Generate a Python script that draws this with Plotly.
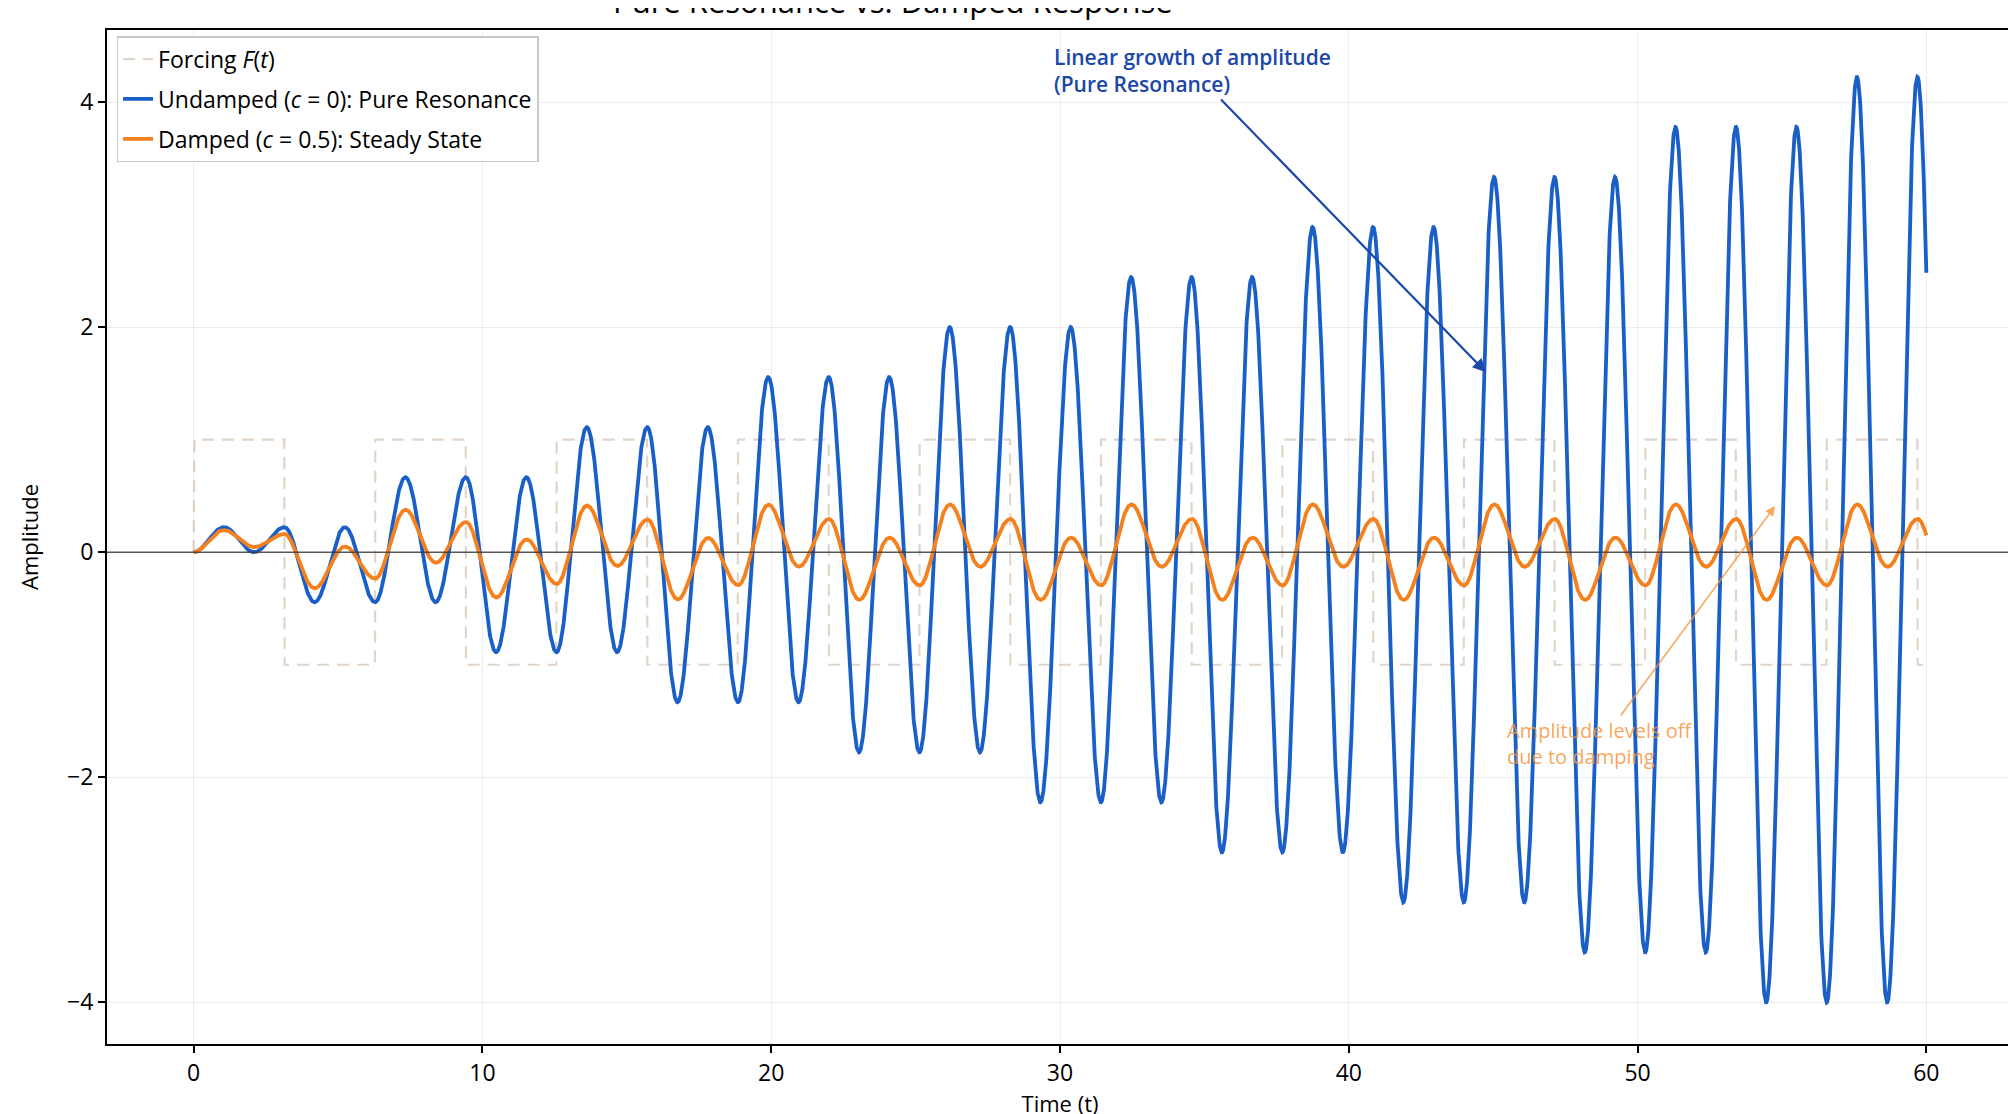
import math
import numpy as np
import plotly.graph_objects as go

# ---- Values ----
time_span = [0.0, 60.0]            # simulated time range
natural_freq = [3.0]               # response makes 3 cycles per forcing period
forcing_levels = [1.0, -1.0]       # square-wave forcing levels
damping_values = [0.0, 0.5]        # c for the two responses
series_names = [
    "Undamped (<i>c</i> = 0): Pure Resonance",
    "Damped (<i>c</i> = 0.5): Steady State",
]
forcing_name = "Forcing <i>F</i>(<i>t</i>)"
x_ticks = [0, 10, 20, 30, 40, 50, 60]
y_ticks = [-4, -2, 0, 2, 4]
title_text = "Pure Resonance vs. Damped Response"
blue_note = "Linear growth of amplitude<br>(Pure Resonance)"
orange_note = "Amplitude levels off<br>due to damping"

# ---- Simulation of x'' + c x' + w^2 x = F(t) ----
dt = 0.005
t = np.arange(time_span[0], time_span[1] + dt / 2, dt)


def forcing_scalar(tt):
    s = math.sin(tt)
    if s > 1e-12:
        return forcing_levels[0]
    if s < -1e-12:
        return forcing_levels[1]
    return 0.0


forcing = np.array([forcing_scalar(tt) for tt in t])


def simulate(c):
    w2 = natural_freq[0] ** 2
    x = np.zeros(len(t))
    v = 0.0
    xx = 0.0

    def acc(tt, px, pv):
        return forcing_scalar(tt) - c * pv - w2 * px

    for i in range(len(t) - 1):
        tt = t[i]
        k1x, k1v = v, acc(tt, xx, v)
        k2x, k2v = v + 0.5 * dt * k1v, acc(tt + 0.5 * dt, xx + 0.5 * dt * k1x, v + 0.5 * dt * k1v)
        k3x, k3v = v + 0.5 * dt * k2v, acc(tt + 0.5 * dt, xx + 0.5 * dt * k2x, v + 0.5 * dt * k2v)
        k4x, k4v = v + dt * k3v, acc(tt + dt, xx + dt * k3x, v + dt * k3v)
        xx += dt / 6 * (k1x + 2 * k2x + 2 * k3x + k4x)
        v += dt / 6 * (k1v + 2 * k2v + 2 * k3v + k4v)
        x[i + 1] = xx
    return x


responses = [simulate(c) for c in damping_values]

FONT = "Open Sans"
BLUE = "#1a5fc8"
ORANGE = "#f5801e"
FORCE_COL = "rgba(205,185,165,0.6)"

fig = go.Figure()
step = 2
fig.add_trace(go.Scatter(
    x=t[::step], y=forcing[::step], mode="lines", name=forcing_name,
    line=dict(color=FORCE_COL, width=2.2, dash="12px,8px"),
    legendgroup="f",
))
fig.add_trace(go.Scatter(
    x=t[::step], y=responses[0][::step], mode="lines", name=series_names[0],
    line=dict(color=BLUE, width=3.8), legendgroup="u",
))
fig.add_trace(go.Scatter(
    x=t[::step], y=responses[1][::step], mode="lines", name=series_names[1],
    line=dict(color=ORANGE, width=3.8), legendgroup="d",
))

axis_common = dict(
    ticks="outside", ticklen=7, tickwidth=1.5, tickcolor="black",
    showline=True, linecolor="black", linewidth=2, mirror=True,
    showgrid=True, gridcolor="rgba(0,0,0,0.07)", gridwidth=1,
    zeroline=False, tickfont=dict(family=FONT, size=23, color="black"),
    automargin=False,
)

fig.update_layout(
    width=2016, height=1114,
    margin=dict(l=99, r=11, t=22, b=78),
    paper_bgcolor="white", plot_bgcolor="white",
    font=dict(family=FONT, color="black"),
    showlegend=True,
    legend=dict(
        x=0.005, y=0.994, xanchor="left", yanchor="top",
        bgcolor="rgba(255,255,255,0.9)", bordercolor="rgba(200,200,200,1)",
        borderwidth=1.5, font=dict(family=FONT, size=23, color="black"),
        tracegroupgap=7,
    ),
    xaxis=dict(range=[-3, 63], tickvals=x_ticks,
               title=dict(text="Time (t)", font=dict(family=FONT, size=22), standoff=0),
               **axis_common),
    yaxis=dict(range=[-4.37, 4.64], tickvals=y_ticks,
               title=dict(text="Amplitude", font=dict(family=FONT, size=22), standoff=22),
               **axis_common),
    shapes=[dict(type="line", xref="paper", x0=0, x1=1, yref="y", y0=0, y1=0,
                 line=dict(color="rgba(60,60,60,0.85)", width=1.6), layer="above")],
    annotations=[
        dict(text=blue_note, x=44.75, y=1.6, xref="x", yref="y",
             ax=34.6, ay=4.28, axref="x", ayref="y", showarrow=True,
             arrowhead=2, arrowsize=1.2, arrowwidth=2.2, arrowcolor="#1a47a8",
             align="left", font=dict(family=FONT, size=21, color="#1a47a8", weight=600)),
        dict(text=orange_note, x=54.76, y=0.41, xref="x", yref="y",
             ax=48.7, ay=-1.7, axref="x", ayref="y", showarrow=True,
             arrowhead=2, arrowsize=1.2, arrowwidth=1.6, arrowcolor="rgba(245,150,60,0.8)",
             align="left", font=dict(family=FONT, size=20, color="rgba(245,150,60,0.85)")),
        dict(text=title_text, xref="paper", yref="paper",
             x=(603 - 99) / 1906, y=(1036 - 16) / 1014, xanchor="left", yanchor="bottom",
             showarrow=False, font=dict(family=FONT, size=31, color="black")),
    ],
)

fig.write_html("out.html")
